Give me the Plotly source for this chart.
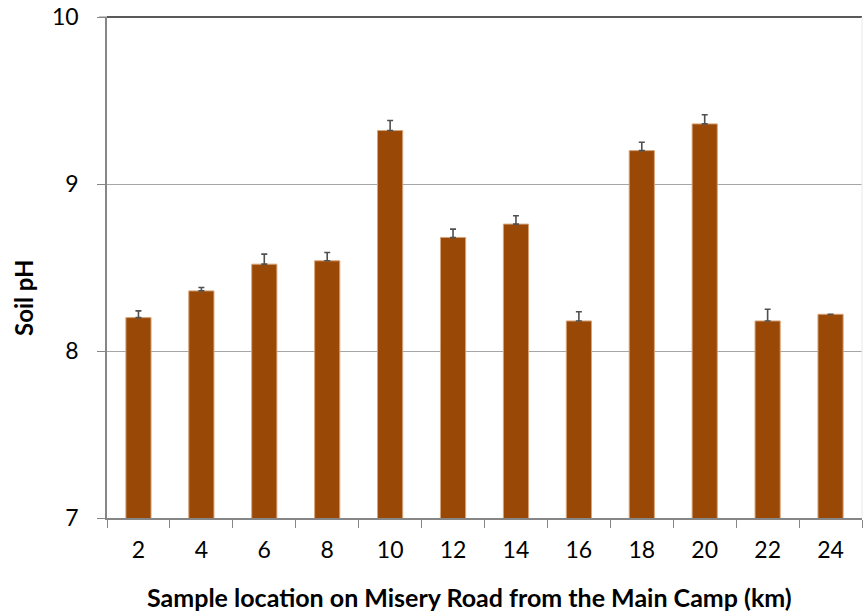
import plotly.graph_objects as go

locations = ["2", "4", "6", "8", "10", "12", "14", "16", "18", "20", "22", "24"]
soil_ph = [8.20, 8.36, 8.52, 8.54, 9.32, 8.68, 8.76, 8.18, 9.20, 9.36, 8.18, 8.22]
ph_error = [0.04, 0.02, 0.06, 0.05, 0.06, 0.05, 0.05, 0.055, 0.05, 0.055, 0.07, None]

FONT = "Lato, 'Open Sans', sans-serif"

fig = go.Figure()
fig.add_trace(go.Bar(
    x=locations,
    y=soil_ph,
    marker=dict(color="#994806", line=dict(color="#D8A47A", width=1)),
    error_y=dict(type="data", symmetric=False, array=ph_error,
                 arrayminus=[0] * len(ph_error),
                 color="#505050", thickness=1.6, width=3),
))

fig.update_layout(
    width=863, height=613,
    margin=dict(l=107, r=1, t=17, b=95, autoexpand=False),
    paper_bgcolor="white", plot_bgcolor="white",
    bargap=0.6,
    showlegend=False,
    font=dict(family=FONT, size=23, color="black"),
    xaxis=dict(
        type="category",
        tickson="boundaries",
        ticks="outside", ticklen=8, tickcolor="#868686", tickwidth=1,
        showline=True, linecolor="#868686", linewidth=1.5,
        showgrid=False,
        tickfont=dict(size=23, family=FONT),
        ticklabelstandoff=11,
        ticklabeloverflow="allow",
        automargin=False,
    ),
    yaxis=dict(
        range=[7, 10],
        tickvals=[7, 8, 9, 10],
        ticks="outside", ticklen=8, tickcolor="#868686", tickwidth=1,
        showline=True, linecolor="#868686", linewidth=1.5,
        showgrid=True, gridcolor="#A6A6A6", gridwidth=1.2,
        tickfont=dict(size=23, family=FONT),
        ticklabelstandoff=14,
        ticklabeloverflow="allow",
        zeroline=False,
        automargin=False,
    ),
    annotations=[
        dict(text="<b>Sample location on Misery Road from the Main Camp (km)</b>",
             xref="paper", yref="paper", x=(469 - 107) / 755, y=-(597 - 518) / 501,
             xanchor="center", yanchor="middle", showarrow=False,
             font=dict(size=25, family=FONT, color="black")),
        dict(text="<b>Soil pH</b>", textangle=-90,
             xref="paper", yref="paper", x=-(107 - 23) / 755, y=(518 - 298) / 501,
             xanchor="center", yanchor="middle", showarrow=False,
             font=dict(size=24, family=FONT, color="black")),
    ],
)

# top border line (with its outside tick) and faint right border
fig.add_shape(type="line", xref="paper", yref="paper", x0=0, x1=1, y0=1, y1=1,
              line=dict(color="#222222", width=1.5))
fig.add_shape(type="line", xref="paper", yref="paper", x0=-8 / 755, x1=0, y0=1, y1=1,
              line=dict(color="#868686", width=1))
fig.add_shape(type="line", xref="paper", yref="paper", x0=1, x1=1, y0=0, y1=1,
              line=dict(color="#E8E8E8", width=1))

fig.write_html("out.html", config={"displayModeBar": False},
               post_script="document.body.style.margin='0';")
